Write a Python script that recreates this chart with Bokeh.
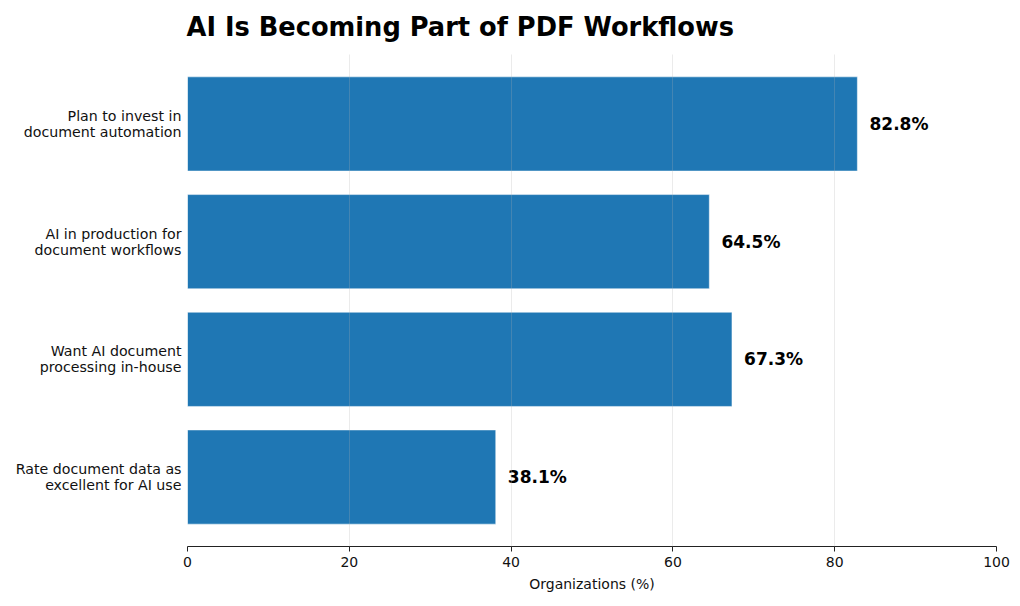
from bokeh.plotting import figure
from bokeh.models import Range1d, FixedTicker
from bokeh.core.properties import value
from bokeh.embed import file_html
from bokeh.resources import INLINE

# data, top to bottom as shown
labels = [
    "Plan to invest in\ndocument automation",
    "AI in production for\ndocument workflows",
    "Want AI document\nprocessing in-house",
    "Rate document data as\nexcellent for AI use",
]
pcts = [82.8, 64.5, 67.3, 38.1]
x_ticks = [0, 20, 40, 60, 80, 100]

ys = list(range(len(labels)))[::-1]
FONT = "DejaVu Sans"

p = figure(width=1012, height=598, output_backend="svg", toolbar_location=None,
           x_range=Range1d(0, 100), y_range=Range1d(-0.59, 3.59),
           min_border_left=187, min_border_right=16, min_border_top=10, min_border_bottom=52)

p.title.text = "AI Is Becoming Part of PDF Workflows"
p.title.text_font = FONT
p.title.text_font_size = "25.7px"
p.title.text_font_style = "bold"
p.title.text_color = "black"
p.title.align = "left"
p.title.vertical_align = "top"
p.title.text_line_height = 1.6
p.title.offset = -1
p.title.standoff = 22

p.hbar(y=ys, right=pcts, left=0, height=0.8, fill_color="#1f77b4",
       line_color="white", line_width=0.8, line_alpha=0.6)

p.text(x=[v + 1.5 for v in pcts], y=ys, text=[f"{v}%" for v in pcts],
       text_font=value(FONT), text_font_size="17px", text_font_style="bold",
       text_baseline="middle", text_align="left", text_color="black")

p.outline_line_color = None
p.ygrid.grid_line_color = None
p.xgrid.ticker = FixedTicker(ticks=x_ticks)
p.xgrid.grid_line_color = "#b0b0b0"
p.xgrid.grid_line_alpha = 0.25
p.xgrid.level = "overlay"

p.xaxis.ticker = FixedTicker(ticks=x_ticks)
p.xaxis.axis_label = "Organizations (%)"
p.xaxis.axis_label_text_font = FONT
p.xaxis.axis_label_text_font_size = "14px"
p.xaxis.axis_label_text_font_style = "normal"
p.xaxis.axis_label_text_color = "#111111"
p.xaxis.axis_label_standoff = 6
p.xaxis.major_label_text_font = FONT
p.xaxis.major_label_text_font_size = "14px"
p.xaxis.major_label_text_color = "#111111"
p.xaxis.axis_line_color = "#222222"
p.xaxis.major_tick_line_color = "#222222"
p.xaxis.major_tick_out = 5
p.xaxis.major_tick_in = 0
p.xaxis.minor_tick_line_color = None

p.yaxis.ticker = FixedTicker(ticks=ys)
p.yaxis.major_label_overrides = {y: lab for y, lab in zip(ys, labels)}
p.yaxis.major_label_text_font = FONT
p.yaxis.major_label_text_font_size = "14.2px"
p.yaxis.major_label_text_line_height = 1.0
p.yaxis.major_label_text_color = "#111111"
p.yaxis.axis_line_color = None
p.yaxis.major_tick_line_color = None
p.yaxis.minor_tick_line_color = None
p.yaxis.major_label_standoff = 0

open("out.html", "w").write(file_html(p, INLINE))
